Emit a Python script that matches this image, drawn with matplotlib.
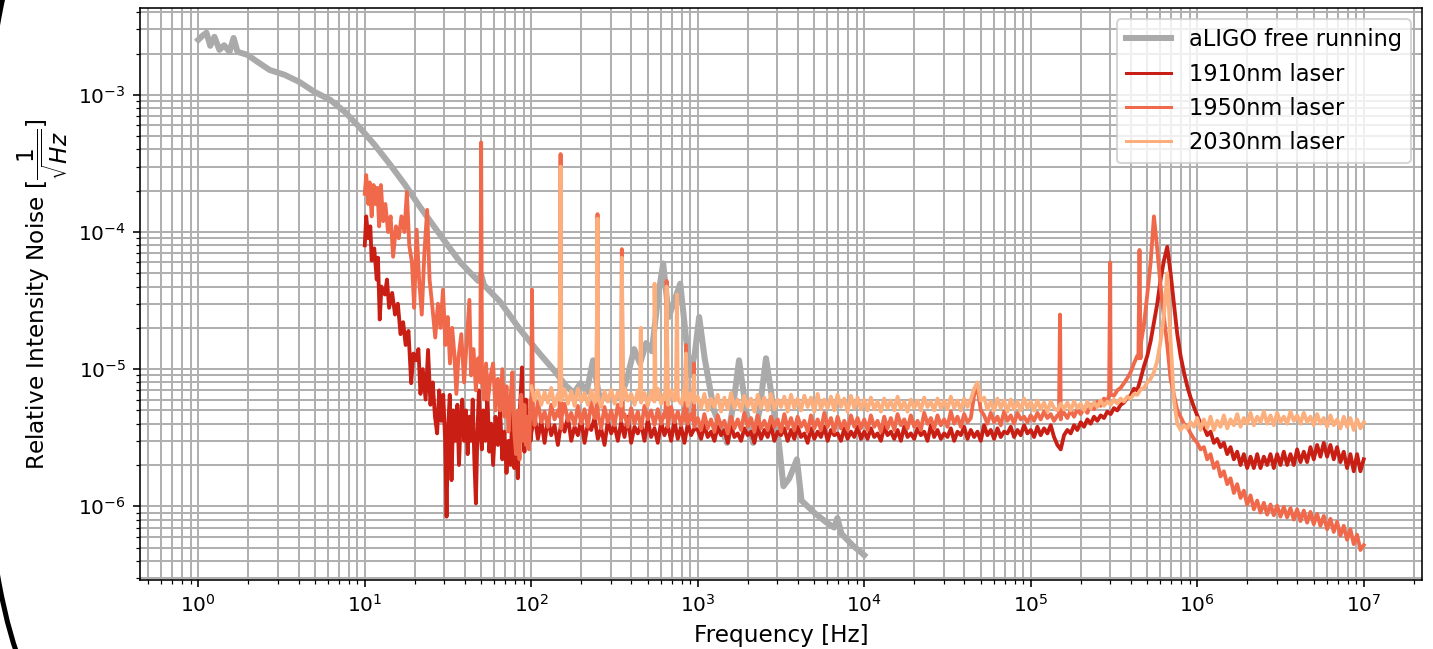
#!/usr/bin/env python3
"""Relative intensity noise of the 2 um lasers vs aLIGO free running."""
import matplotlib
matplotlib.use('Agg')
import matplotlib.pyplot as plt
from matplotlib.patches import Arc
import numpy as np

ALIGO_GREY = "#aaaaaa"
C_1910 = "#c81e14"
C_1950 = "#f0694b"
C_2030 = "#fcaf7d"

# --- aLIGO free running ---
f_aligo = [1.00, 1.06, 1.12, 1.18, 1.25, 1.34, 1.43, 1.54, 1.63, 1.72, 1.97, 2.27, 2.68,
           3.3, 4.06, 5.0, 6.2, 7.6, 9.3, 11.5, 14.2, 17.5, 21.5, 28.4, 37.5, 48, 50, 52,
           65, 86, 114, 140, 161, 180, 198, 215, 235, 255, 290, 347, 380, 415, 450, 490,
           530, 580, 620, 670, 785, 850, 900, 960, 1020, 1100, 1250, 1500, 1650, 1770,
           1950, 2150, 2350, 2570, 2800, 3060, 3270, 3550, 3940, 4200, 5050, 5950, 6600,
           6900, 7300, 8500, 9800, 10000]
rin_aligo = [2.52e-3, 2.70e-3, 2.84e-3, 2.28e-3, 2.65e-3, 2.13e-3, 2.30e-3, 2.06e-3, 2.60e-3,
             2.06e-3, 1.96e-3, 1.74e-3, 1.52e-3, 1.40e-3, 1.24e-3, 1.05e-3, 9.2e-4, 7.5e-4,
             5.8e-4, 4.3e-4, 3.1e-4, 2.2e-4, 1.52e-4, 9.5e-5, 6.0e-5, 4.4e-5, 4.9e-5, 4.1e-5,
             3.1e-5, 1.93e-5, 1.27e-5, 9.5e-6, 7.6e-6, 6.7e-6, 7.9e-6, 6.8e-6, 1.16e-5, 6.5e-6,
             6.0e-6, 6.2e-6, 9.0e-6, 1.4e-5, 1.1e-5, 1.55e-5, 1.35e-5, 3.5e-5, 5.9e-5, 2.4e-5,
             4.2e-5, 1.7e-5, 9.0e-6, 1.3e-5, 2.4e-5, 1.2e-5, 5.0e-6, 2.9e-6, 6.0e-6, 1.16e-5,
             5.0e-6, 2.9e-6, 5.0e-6, 1.2e-5, 6.0e-6, 3.0e-6, 1.4e-6, 1.6e-6, 2.2e-6, 1.1e-6,
             8.9e-7, 7.6e-7, 7.0e-7, 8.2e-7, 6.3e-7, 5.2e-7, 4.5e-7, 4.4e-7]

# --- common frequency grid above 100 Hz: 50 points per decade ---
grid_mantissa = [1.000, 1.047, 1.096, 1.148, 1.202, 1.259, 1.318, 1.380, 1.445, 1.514,
                 1.585, 1.660, 1.738, 1.820, 1.905, 1.995, 2.089, 2.188, 2.291, 2.399,
                 2.512, 2.630, 2.754, 2.884, 3.020, 3.162, 3.311, 3.467, 3.631, 3.802,
                 3.981, 4.169, 4.365, 4.571, 4.786, 5.012, 5.248, 5.495, 5.754, 6.026,
                 6.310, 6.607, 6.918, 7.244, 7.586, 7.943, 8.318, 8.710, 9.120, 9.550]
grid_decades = [2, 3, 4, 5, 6]
freq_grid = [m * 10 ** d for d in grid_decades for m in grid_mantissa] + [1.0e7]

# --- 1910nm laser ---
f_1910_low = [10.0, 10.2, 10.5, 10.8, 11.0, 11.4, 11.8, 12.0, 12.3, 12.6, 13.2, 13.6, 14.0, 14.6,
              15.2, 15.8, 16.4, 17.0, 17.6, 18.3, 19.0, 19.6, 20.3, 21.0, 21.6, 22.3, 23.2, 24.0,
              24.8, 25.6, 26.4, 27.2, 28.0, 28.8, 29.6, 30.4, 31.0, 31.6, 32.4, 33.2, 34.0, 35.0,
              36.0, 36.8, 37.6, 38.5, 39.5, 40.5, 41.5, 42.5, 43.5, 44.5, 45.5, 46.5, 47.5, 48.5,
              49.5, 50.5, 51.5, 53.0, 54.5, 56.0, 57.5, 59.0, 61.0, 63.0, 65.0, 67.0, 69.0, 71.0,
              73.0, 75.0, 77.0, 79.0, 81.0, 83.0, 85.0, 87.0, 88.0, 89.5, 91.0, 93.0, 95.0, 97.0, 99.0]
rin_1910_low = [8.0e-5, 1.3e-4, 9.0e-5, 1.1e-4, 6.2e-5, 7.6e-5, 4.5e-5, 6.5e-5, 2.3e-5, 4.0e-5,
                3.5e-5, 4.5e-5, 2.8e-5, 3.6e-5, 2.5e-5, 3.0e-5, 1.8e-5, 2.2e-5, 1.5e-5, 1.9e-5,
                7.9e-6, 1.3e-5, 1.16e-5, 1.4e-5, 6.6e-6, 1.0e-5, 6.0e-6, 1.38e-5, 5.5e-6, 8.0e-6,
                4.5e-6, 3.4e-6, 7.0e-6, 4.2e-6, 6.5e-6, 3.0e-6, 8.4e-7, 3.5e-6, 6.5e-6, 1.55e-6,
                5.0e-6, 3.0e-6, 5.5e-6, 2.0e-6, 4.0e-6, 6.0e-6, 3.0e-6, 5.0e-6, 2.4e-6, 4.5e-6,
                3.0e-6, 6.0e-6, 2.2e-6, 1.05e-6, 3.5e-6, 7.0e-6, 3.5e-6, 2.6e-6, 5.0e-6, 3.0e-6,
                6.5e-6, 2.5e-6, 4.0e-6, 2.0e-6, 4.5e-6, 2.8e-6, 5.0e-6, 2.2e-6, 3.5e-6, 1.75e-6,
                3.0e-6, 2.0e-6, 5.0e-6, 1.9e-6, 3.0e-6, 1.6e-6, 4.5e-6, 8.0e-6, 1.03e-5, 3.5e-6,
                2.5e-6, 6.0e-6, 3.5e-6, 4.5e-6, 3.0e-6]
# values on freq_grid, in units of 1e-6
rin_1910_grid_u = [
    # 1e2 .. 1e3
    3.4, 4.6, 3.1, 4.2, 2.9, 4.4, 3.3, 3.9, 2.8, 4.1, 3.5, 4.5, 3.0, 3.8, 3.3, 4.3, 2.9, 4.0, 3.6, 4.4,
    3.1, 3.7, 2.8, 4.2, 3.4, 3.9, 3.0, 4.1, 3.2, 4.5, 2.9, 3.8, 3.4, 4.0, 3.0, 4.3, 3.2, 3.7, 2.9, 4.1,
    3.3, 3.9, 3.0, 4.2, 3.1, 3.8, 2.9, 4.0, 3.3, 3.7,
    # 1e3 .. 1e4
    3.6, 3.1, 3.9, 3.2, 3.5, 3.0, 3.8, 3.3, 3.6, 2.9, 3.9, 3.2, 3.4, 3.0, 3.7, 3.3, 3.5, 2.9, 3.8, 3.1,
    3.6, 3.2, 3.9, 3.0, 3.5, 3.3, 3.7, 3.0, 3.6, 3.1, 3.8, 3.2, 3.4, 2.9, 3.7, 3.1, 3.5, 3.2, 3.8, 3.0,
    3.6, 3.3, 3.4, 3.0, 3.7, 3.1, 3.5, 3.2, 3.8, 3.1,
    # 1e4 .. 1e5
    3.5, 3.1, 3.7, 3.2, 3.4, 3.0, 3.8, 3.3, 3.5, 3.1, 3.6, 3.0, 3.8, 3.2, 3.4, 3.1, 3.7, 3.3, 3.5, 3.0,
    3.9, 3.2, 3.6, 3.1, 3.4, 3.2, 3.7, 3.0, 3.5, 3.3, 3.8, 3.1, 3.6, 3.2, 3.5, 3.0, 3.9, 3.3, 3.6, 3.1,
    3.7, 3.2, 3.5, 3.4, 3.8, 3.2, 3.6, 3.3, 3.9, 3.4,
    # 1e5 .. 1e6
    3.6, 3.2, 3.8, 3.3, 3.7, 3.4, 3.9, 3.2, 2.8, 2.6, 3.3, 3.6, 3.4, 3.9, 3.6, 4.1, 3.8, 4.3, 4.0, 4.5,
    4.2, 4.6, 4.4, 4.9, 4.7, 5.2, 5.0, 5.5, 5.7, 6.2, 6.4, 7.2, 7.0, 8.5, 10.5, 12.5, 16, 22, 30, 45,
    62, 78, 50, 30, 18, 12.5, 9.5, 7.5, 6.2, 5.3,
    # 1e6 .. 1e7
    4.6, 4.0, 3.8, 3.3, 3.5, 2.9, 3.1, 2.7, 2.9, 2.4, 2.7, 2.2, 2.5, 2.0, 2.4, 1.9, 2.3, 1.9, 2.4, 1.9,
    2.3, 2.0, 2.4, 1.9, 2.4, 2.0, 2.5, 2.0, 2.4, 2.0, 2.6, 2.1, 2.5, 2.1, 2.7, 2.2, 2.8, 2.3, 2.9, 2.3,
    2.8, 2.2, 2.7, 2.1, 2.5, 1.9, 2.4, 1.8, 2.4, 1.8,
    2.2]
spike_f_1910 = []
spike_top_1910 = []
spike_base_1910 = []

# --- 1950nm laser ---
f_1950_low = [10.0, 10.2, 10.5, 10.7, 11.0, 11.3, 11.6, 11.9, 12.2, 12.5, 12.9, 13.3, 13.8, 14.3,
              14.8, 15.4, 16.0, 16.6, 17.3, 17.9, 18.5, 19.2, 19.8, 20.5, 21.2, 22.0, 22.8, 23.7,
              24.5, 25.5, 26.5, 27.5, 28.5, 29.5, 30.5, 31.5, 32.5, 33.5, 34.5, 35.5, 36.5, 38.0,
              39.5, 41.0, 42.5, 43.5, 45.0, 46.5, 48.0, 49.4, 50.0, 50.6, 52.0, 53.5, 55.0, 57.0,
              59.0, 61.0, 63.0, 65.0, 67.0, 69.0, 71.0, 73.0, 75.0, 77.0, 79.0, 81.0, 83.0, 85.0,
              87.0, 89.0, 91.0, 93.0, 95.0, 97.0, 99.0]
rin_1950_low = [1.9e-4, 2.6e-4, 1.6e-4, 2.3e-4, 1.3e-4, 2.2e-4, 1.6e-4, 2.1e-4, 1.1e-4, 2.2e-4,
                1.2e-4, 1.6e-4, 1.0e-4, 1.3e-4, 6.6e-5, 1.1e-4, 9.0e-5, 1.3e-4, 1.0e-4, 1.96e-4,
                8.0e-5, 6.0e-5, 2.8e-5, 1.04e-4, 4.5e-5, 2.5e-5, 7.0e-5, 1.45e-4, 4.5e-5, 2.8e-5,
                1.7e-5, 3.0e-5, 2.0e-5, 3.8e-5, 1.5e-5, 2.4e-5, 1.1e-5, 2.0e-5, 1.3e-5, 6.6e-6,
                1.2e-5, 1.8e-5, 8.0e-6, 1.6e-5, 3.2e-5, 9.0e-6, 1.4e-5, 7.0e-6, 1.2e-5, 8.0e-6,
                4.5e-4, 9.0e-6, 6.0e-6, 1.1e-5, 6.0e-6, 9.0e-6, 1.1e-5, 5.0e-6, 8.5e-6, 5.0e-6,
                1.0e-5, 4.5e-6, 7.5e-6, 3.5e-6, 6.0e-6, 9.5e-6, 3.5e-6, 2.4e-6, 5.0e-6, 2.2e-6,
                6.5e-6, 3.0e-6, 5.5e-6, 2.8e-6, 4.5e-6, 2.6e-6, 6.0e-6]
rin_1950_grid_u = [
    # 1e2 .. 1e3
    5.2, 3.9, 5.8, 4.1, 4.9, 3.8, 5.5, 4.3, 5.0, 3.7, 5.6, 4.2, 4.8, 3.9, 5.4, 4.0, 5.1, 3.8, 5.7, 4.4,
    4.9, 3.7, 5.3, 4.1, 5.0, 3.9, 5.5, 4.2, 4.7, 3.8, 5.2, 4.0, 4.9, 3.7, 5.4, 4.3, 5.0, 3.9, 5.1, 4.0,
    4.8, 3.8, 5.3, 4.1, 4.9, 3.9, 5.2, 4.0, 4.7, 3.8,
    # 1e3 .. 1e4
    4.4, 3.6, 4.7, 3.7, 4.3, 3.5, 4.6, 3.8, 4.2, 3.4, 4.5, 3.7, 4.3, 3.6, 4.8, 3.8, 4.4, 3.5, 4.6, 3.7,
    4.2, 3.6, 4.5, 3.8, 4.3, 3.5, 4.7, 3.7, 4.4, 3.6, 4.5, 3.8, 4.2, 3.5, 4.6, 3.7, 4.3, 3.6, 4.8, 3.8,
    4.4, 3.5, 4.5, 3.7, 4.2, 3.6, 4.6, 3.8, 4.4, 3.7,
    # 1e4 .. 1e5
    4.3, 3.6, 4.6, 3.8, 4.2, 3.5, 4.5, 3.7, 4.4, 3.6, 4.7, 3.9, 4.3, 3.7, 4.6, 3.8, 4.2, 3.6, 4.8, 4.0,
    4.4, 3.7, 4.6, 3.9, 4.3, 3.8, 4.9, 4.0, 4.5, 3.8, 4.7, 4.1, 4.4, 6.5, 7.4, 5.0, 4.6, 4.0, 4.8, 4.1,
    4.5, 3.9, 4.9, 4.2, 4.6, 4.0, 4.8, 4.3, 4.5, 4.1,
    # 1e5 .. 1e6
    4.6, 4.2, 4.8, 4.3, 4.9, 4.4, 4.7, 4.2, 4.6, 4.3, 4.8, 4.4, 5.0, 4.5, 5.1, 4.7, 5.2, 4.8, 5.5, 5.1,
    5.8, 5.4, 6.1, 5.8, 6.5, 6.4, 7.0, 7.3, 7.9, 8.6, 9.5, 11, 12.5, 15, 21, 35, 60, 130, 75, 40,
    24, 15, 8.5, 6.5, 5.0, 4.5, 4.0, 3.8, 3.4, 3.1,
    # 1e6 .. 1e7
    2.9, 2.6, 2.7, 2.2, 2.4, 1.9, 2.1, 1.65, 1.8, 1.45, 1.6, 1.25, 1.45, 1.15, 1.3, 1.03, 1.2, 0.95,
    1.1, 0.9, 1.06, 0.87, 1.03, 0.86, 1.01, 0.84, 0.99, 0.83, 0.97, 0.8, 0.95, 0.78, 0.93, 0.76, 0.91,
    0.74, 0.88, 0.72, 0.85, 0.68, 0.81, 0.65, 0.77, 0.61, 0.72, 0.57, 0.68, 0.53, 0.62, 0.48,
    0.52]
spike_f_1950 = [101, 150, 250, 350, 650, 850, 950, 1.5e5, 3.0e5, 4.5e5]
spike_top_1950 = [3.8e-5, 3.7e-4, 1.35e-4, 7.5e-5, 4.4e-5, 1.5e-5, 1.1e-5, 2.5e-5, 6.0e-5, 7.4e-5]
spike_base_1950 = [5.0e-6, 4.5e-6, 4.5e-6, 4.5e-6, 4.5e-6, 4.2e-6, 4.2e-6, 4.6e-6, 6.5e-6, 1.2e-5]

# --- 2030nm laser (starts at 100 Hz) ---
rin_2030_grid_u = [
    # 1e2 .. 1e3
    7.5, 5.9, 7.0, 5.5, 6.8, 5.7, 7.3, 5.4, 6.6, 5.9, 7.1, 5.6, 6.9, 5.4, 7.2, 5.8, 6.7, 5.5, 7.0, 5.7,
    6.5, 5.3, 6.9, 5.8, 7.1, 5.6, 6.8, 5.4, 7.3, 5.9, 6.6, 5.5, 7.0, 5.7, 6.7, 5.4, 6.9, 5.8, 7.2, 5.6,
    6.6, 5.5, 7.0, 5.9, 6.8, 5.6, 7.1, 5.4, 6.7, 5.7,
    # 1e3 .. 1e4
    6.3, 5.2, 6.6, 5.0, 6.1, 5.3, 6.5, 4.9, 6.2, 5.1, 6.7, 5.2, 6.0, 5.0, 6.4, 5.3, 6.1, 4.9, 6.5, 5.2,
    6.2, 5.0, 6.6, 5.1, 6.0, 5.3, 6.3, 4.9, 6.5, 5.2, 6.1, 5.0, 6.4, 5.3, 6.2, 4.9, 6.6, 5.1, 6.0, 5.2,
    6.3, 5.0, 6.5, 5.3, 6.1, 4.9, 6.4, 5.2, 6.2, 5.1,
    # 1e4 .. 1e5
    6.0, 5.0, 6.2, 5.1, 5.8, 4.9, 6.1, 5.2, 5.9, 5.0, 6.3, 5.1, 5.8, 4.9, 6.0, 5.2, 5.9, 5.0, 6.2, 5.3,
    5.8, 5.0, 6.1, 5.2, 5.9, 5.1, 6.3, 5.2, 5.9, 5.0, 6.1, 5.3, 6.0, 7.2, 8.0, 5.9, 6.2, 5.1, 5.8, 5.0,
    6.1, 5.2, 5.9, 4.9, 6.0, 5.1, 5.8, 5.0, 6.1, 5.2,
    # 1e5 .. 1e6
    5.8, 5.0, 5.9, 5.1, 5.7, 4.9, 5.8, 5.2, 5.0, 5.6, 5.1, 5.7, 5.0, 5.8, 5.2, 5.6, 5.0, 5.8, 5.2, 5.7,
    5.3, 5.9, 5.4, 5.8, 5.5, 6.0, 5.6, 6.1, 5.8, 6.3, 6.1, 6.6, 6.5, 7.1, 7.3, 8.0, 8.5, 9.5, 11.5, 16,
    25, 50, 16, 6.0, 4.0, 3.6, 3.9, 3.7, 4.1, 3.8,
    # 1e6 .. 1e7
    4.4, 3.6, 4.3, 3.7, 4.5, 3.6, 4.2, 3.8, 4.6, 3.7, 4.3, 3.9, 4.7, 3.8, 4.4, 4.0, 4.8, 3.9, 4.5, 4.1,
    4.9, 4.0, 4.6, 3.9, 4.8, 4.1, 4.5, 4.0, 4.9, 4.2, 4.6, 4.0, 4.8, 4.1, 4.5, 3.9, 4.7, 4.0, 4.4, 3.8,
    4.6, 3.9, 4.3, 3.7, 4.5, 3.8, 4.4, 3.6, 4.3, 3.7,
    4.1]
spike_f_2030 = [150, 250, 350, 455, 550, 650, 750, 850, 950]
spike_top_2030 = [3.0e-4, 1.25e-4, 6.5e-5, 2.0e-5, 4.2e-5, 4.0e-5, 3.5e-5, 1.3e-5, 9.0e-6]
spike_base_2030 = [6.0e-6, 6.0e-6, 6.0e-6, 6.0e-6, 6.0e-6, 6.0e-6, 6.0e-6, 6.0e-6, 6.0e-6]

SPIKE_HALF_WIDTH = 0.015  # relative frequency offset of the spike flanks


def build_trace(f_low, v_low, v_grid_u, sp_f, sp_top, sp_base):
    """Join the low band, the gridded band and the narrow spikes into one trace."""
    assert len(v_grid_u) == len(freq_grid)
    f = list(f_low) + list(freq_grid)
    v = list(v_low) + [u * 1e-6 for u in v_grid_u]
    for fs, top, base in zip(sp_f, sp_top, sp_base):
        f += [fs * (1 - SPIKE_HALF_WIDTH), fs, fs * (1 + SPIKE_HALF_WIDTH)]
        v += [base, top, base]
    f = np.array(f)
    v = np.array(v)
    order = np.argsort(f)
    return f[order], v[order]


f1910, v1910 = build_trace(f_1910_low, rin_1910_low, rin_1910_grid_u,
                           spike_f_1910, spike_top_1910, spike_base_1910)
f1950, v1950 = build_trace(f_1950_low, rin_1950_low, rin_1950_grid_u,
                           spike_f_1950, spike_top_1950, spike_base_1950)
f2030, v2030 = build_trace([], [], rin_2030_grid_u,
                           spike_f_2030, spike_top_2030, spike_base_2030)

DPI = 145
fig = plt.figure(figsize=(1433 / DPI, 649 / DPI), dpi=DPI)
ax = fig.add_axes([140 / 1433, 69 / 649, 1282 / 1433, 572 / 649])

ax.loglog(f_aligo, rin_aligo, color=ALIGO_GREY, lw=3, label='aLIGO free running')
ax.loglog(f1910, v1910, color=C_1910, lw=1.9, label='1910nm laser')
ax.loglog(f1950, v1950, color=C_1950, lw=1.9, label='1950nm laser')
ax.loglog(f2030, v2030, color=C_2030, lw=1.9, label='2030nm laser')

ax.set_xlim(10 ** -0.35, 10 ** 7.35)
ax.set_ylim(2.9e-7, 4.3e-3)
ax.grid(True, which='both', color='#b0b0b0', lw=1.0)
ax.set_axisbelow(True)
ax.set_xlabel('Frequency [Hz]', fontsize=11.5)
ax.set_ylabel(r'Relative Intensity Noise [$\dfrac{1}{\sqrt{Hz}}$]', fontsize=11.5)
leg = ax.legend(loc='upper right', fontsize=11.2)
for line in leg.get_lines()[1:]:
    line.set_linewidth(1.5)

# black rounded frame edge visible at the left of the original screenshot
fig.add_artist(Arc((52 / 1433, 349 / 649), 150 / 1433, 800 / 649, theta1=90, theta2=270,
                   transform=fig.transFigure, ec='black', lw=2.5))

fig.savefig('out.png', dpi=DPI)
plt.close(fig)
